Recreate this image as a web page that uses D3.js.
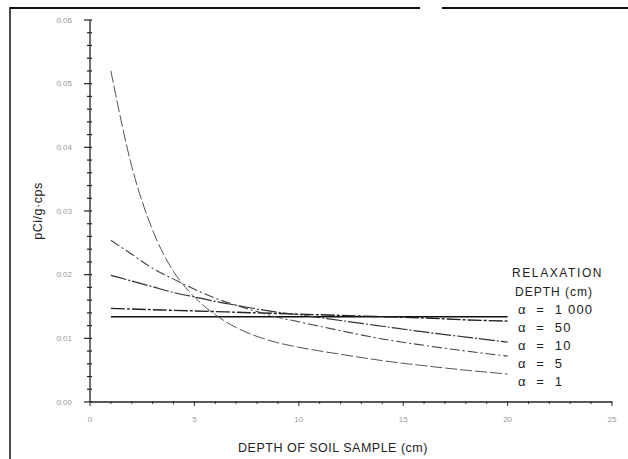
<!DOCTYPE html>
<meta charset="utf-8">
<head>
<title>relaxation depth</title>
<style>
body { margin: 0; background: #fff; }
svg { display: block; }
.tick-lbl { font: 8px "Liberation Sans", sans-serif; fill: #999; }
.lbl { font: 12px "Liberation Sans", sans-serif; fill: #222; letter-spacing: 0.5px; }
</style>
</head>
<body>
<svg width="628" height="459"></svg>
<script src="https://d3js.org/d3.v7.min.js"></script>
<script>

// depth of soil sample (cm)
var depths = [1, 2, 3, 4, 5, 6, 7, 8, 9, 10, 12, 14, 16, 18, 20];

// pCi/g per cps for each relaxation depth alpha
var alpha1    = [0.052, 0.037, 0.027, 0.0205, 0.0165, 0.0137, 0.0117, 0.0103, 0.0093, 0.0086, 0.0075, 0.0065, 0.0057, 0.0050, 0.0044];
var alpha5    = [0.0254, 0.0232, 0.0210, 0.0193, 0.0177, 0.0163, 0.0152, 0.0142, 0.0133, 0.0126, 0.0112, 0.0099, 0.0089, 0.0080, 0.0072];
var alpha10   = [0.0199, 0.0190, 0.0181, 0.0172, 0.0165, 0.0158, 0.0152, 0.0146, 0.0141, 0.0137, 0.0128, 0.0119, 0.0110, 0.0102, 0.0094];
var alpha50   = [0.0147, 0.0146, 0.0145, 0.0144, 0.0143, 0.0142, 0.0141, 0.0140, 0.0139, 0.0138, 0.0136, 0.0134, 0.0132, 0.0129, 0.0127];
var alpha1000 = [0.0134, 0.0134, 0.0134, 0.0134, 0.0134, 0.0134, 0.0134, 0.0134, 0.0134, 0.0134, 0.0134, 0.0134, 0.0134, 0.0134, 0.0134];

var xTicks = [0, 5, 10, 15, 20, 25];
var yTicks = [0, 0.01, 0.02, 0.03, 0.04, 0.05, 0.06];
var yTickLabels = ["0.00", "0.01", "0.02", "0.03", "0.04", "0.05", "0.06"];
var legendLabels = ["\u03b1  =  1 000", "\u03b1  =  50", "\u03b1  =  10", "\u03b1  =  5", "\u03b1  =  1"];

var svg = d3.select("svg");

var x = d3.scaleLinear().domain([0, 25]).range([90, 612]);
var y = d3.scaleLinear().domain([0, 0.06]).range([402, 20]);

// scanned frame
svg.append("line").attr("x1", 10).attr("x2", 10).attr("y1", 7).attr("y2", 459)
    .attr("stroke", "#111").attr("stroke-width", 1.5);
svg.append("line").attr("x1", 10).attr("x2", 420).attr("y1", 8).attr("y2", 8)
    .attr("stroke", "#111").attr("stroke-width", 2);
svg.append("line").attr("x1", 442).attr("x2", 628).attr("y1", 8).attr("y2", 8)
    .attr("stroke", "#111").attr("stroke-width", 2);

// y axis
var gy = svg.append("g").attr("transform", "translate(" + x(0) + ",0)");
gy.append("line").attr("y1", y(0.06)).attr("y2", y(0)).attr("stroke", "#222").attr("stroke-width", 1.3);
gy.selectAll(".minor").data(d3.range(0, 31).map(function(i) { return i * 0.002; }))
  .enter().append("line")
    .attr("x1", function(d, i) { return i % 5 == 0 ? -6 : -3; })
    .attr("x2", 2)
    .attr("y1", function(d) { return y(d); })
    .attr("y2", function(d) { return y(d); })
    .attr("stroke", "#222").attr("stroke-width", 1.2);
gy.selectAll(".tick-lbl").data(yTicks).enter().append("text")
    .attr("class", "tick-lbl")
    .attr("x", -18)
    .attr("y", function(d) { return y(d); })
    .attr("dy", "0.32em")
    .attr("text-anchor", "end")
    .text(function(d, i) { return yTickLabels[i]; });

// x axis
var gx = svg.append("g").attr("transform", "translate(0," + y(0) + ")");
gx.append("line").attr("x1", x(0)).attr("x2", x(25)).attr("stroke", "#222").attr("stroke-width", 1.5);
gx.selectAll(".minor").data(d3.range(0, 26)).enter().append("line")
    .attr("x1", function(d) { return x(d); })
    .attr("x2", function(d) { return x(d); })
    .attr("y1", function(d) { return d % 5 == 0 ? 4 : 2; })
    .attr("y2", -1)
    .attr("stroke", "#333").attr("stroke-width", 1);
gx.selectAll(".tick-lbl").data(xTicks).enter().append("text")
    .attr("class", "tick-lbl")
    .attr("x", function(d) { return x(d); })
    .attr("y", 20)
    .attr("text-anchor", "middle")
    .text(function(d) { return d; });

// axis titles
svg.append("text").attr("class", "lbl")
    .attr("transform", "translate(38,211) rotate(-90)")
    .attr("text-anchor", "middle")
    .attr("dy", "0.35em")
    .style("font-size", "12.5px")
    .text("pCi/g\u00b7cps");
svg.append("text").attr("class", "lbl")
    .attr("x", 333).attr("y", 452)
    .attr("text-anchor", "middle")
    .style("font-size", "12.5px")
    .text("DEPTH OF SOIL SAMPLE (cm)");

// curves
var series = [
  {vals: alpha1000, dash: null, w: 1.4, c: "#111"},
  {vals: alpha50, dash: "14,2,3,2", w: 1.4, c: "#222"},
  {vals: alpha10, dash: "16,2,2,2", w: 1.2, c: "#333"},
  {vals: alpha5, dash: "10,3,2,3", w: 1.1, c: "#444"},
  {vals: alpha1, dash: "12,3", w: 1.0, c: "#555"}
];

var line = d3.line()
    .x(function(d) { return x(d[0]); })
    .y(function(d) { return y(d[1]); })
    .curve(d3.curveMonotoneX);

svg.append("g").selectAll("path").data(series).enter().append("path")
    .attr("d", function(s) { return line(depths.map(function(dp, i) { return [dp, s.vals[i]]; })); })
    .attr("fill", "none")
    .attr("stroke", function(s) { return s.c; })
    .attr("stroke-width", function(s) { return s.w; })
    .attr("stroke-dasharray", function(s) { return s.dash; });

// legend
var lg = svg.append("g");
lg.append("text").attr("class", "lbl").attr("x", 512).attr("y", 277)
    .style("letter-spacing", "1.6px").text("RELAXATION");
lg.append("text").attr("class", "lbl").attr("x", 515).attr("y", 296)
    .style("letter-spacing", "1px").text("DEPTH (cm)");
lg.selectAll(".item").data(legendLabels).enter().append("text")
    .attr("class", "lbl")
    .attr("x", 518)
    .attr("y", function(d, i) { return 314 + i * 18; })
    .style("font-size", "13px")
    .style("letter-spacing", "1.2px")
    .style("white-space", "pre")
    .text(function(d) { return d; });

</script>
</body>
